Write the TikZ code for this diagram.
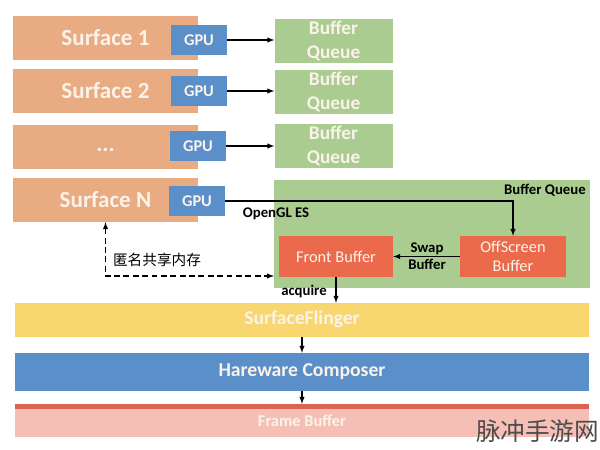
\documentclass[tikz,border=0pt]{standalone}
\usepackage{fontspec}
\setmainfont{Carlito}
\newfontfamily\cjk{Noto Sans CJK SC}
\newlength{\px}
\setlength{\px}{0.03cm}
\newcommand{\surfdots}{\rule{0pt}{8pt}...}
\definecolor{surfacecol}{HTML}{E9AB82}
\definecolor{gpucol}{HTML}{5B8FCA}
\definecolor{queuecol}{HTML}{AACC90}
\definecolor{buffercol}{HTML}{EC6A4C}
\definecolor{flingercol}{HTML}{F8D670}
\definecolor{framecol}{HTML}{F6BFB5}
\definecolor{stripcol}{HTML}{DA6450}
\definecolor{softwhite}{HTML}{FBF3EA}
\tikzset{
  layer/.style={inner sep=0pt,text=softwhite,font=\bfseries},
  lowtext/.style={text height=1em,text depth=0.2em},
  surfacebox/.style={layer,fill=surfacecol,minimum width=185\px,minimum height=44\px,font=\bfseries\fontsize{19.7}{22}\selectfont},
  gpubox/.style={layer,fill=gpucol,minimum width=56\px,minimum height=30\px,font=\fontsize{14}{16}\selectfont\bfseries},
  queuebox/.style={layer,fill=queuecol,minimum width=118\px,minimum height=44\px,align=center,font=\fontsize{16.5}{20.5}\selectfont\bfseries},
  bufferbox/.style={layer,fill=buffercol,minimum height=41\px,align=center,font=\fontsize{14}{16.5}\selectfont},
  tag/.style={inner sep=0pt,align=center,font=\fontsize{12.6}{14.5}\selectfont\bfseries},
  link/.style={black,line width=1pt,-latex},
}
\begin{document}
\begin{tikzpicture}[x=0.03cm,y=-0.03cm]
  \useasboundingbox (0,0) rectangle (600,449);
  \foreach [count=\Z] \X/\Y/\G/\H/\Q in {Surface 1/38/199/40/41,Surface 2/91/199/91/92,\surfdots/147/198/146/146}
  {\node[surfacebox] (surf\Z) at (105.5,\Y) {\X};
   \node[gpubox] (gpu\Z) at (\G,\H) {GPU};
   \node[queuebox] (queue\Z) at (333.5,\Q) {Buffer\\Queue};
   \draw[link] (gpu\Z) -- (gpu\Z-|queue\Z.west);}
  \node[surfacebox] (surfN) at (105.5,200) {Surface N};
  \node[gpubox] (gpuN) at (197,201) {GPU};
  \node[queuebox,minimum width=316\px,minimum height=108\px] (queueN) at (432,234) {};
  \node[tag,anchor=north east] (queuelabel) at (586,184) {Buffer Queue};
  \node[tag] (opengl) at (276,214) {OpenGL ES};
  \node[bufferbox,minimum width=114\px] (front) at (336,256.5) {Front Buffer};
  \node[bufferbox,minimum width=106\px] (offscreen) at (513,256.5) {OffScreen\\Buffer};
  \node[tag] (swap) at (427,256) {Swap\\Buffer};
  \node[tag] (acquire) at (304,291) {acquire};
  \node[layer,lowtext,fill=flingercol,minimum width=574\px,minimum height=34\px,font=\fontsize{16.7}{19}\selectfont\bfseries] (flinger) at (302,320) {SurfaceFlinger};
  \node[layer,lowtext,fill=gpucol,minimum width=574\px,minimum height=38\px,font=\fontsize{16.8}{19}\selectfont\bfseries] (composer) at (302,372) {Hareware Composer};
  \node[layer,fill=framecol,minimum width=574\px,minimum height=33\px,font=\fontsize{14}{16}\selectfont\bfseries] (frame) at (302,420.5) {Frame Buffer};
  \fill[stripcol] (frame.north west) rectangle ([yshift=-5\px]frame.north east);
  \node[inner sep=0pt,font=\cjk\fontsize{12.5}{15}\selectfont] (shm) at (157,260) {匿名共享内存};
  \node[inner sep=0pt,text=black!70,font=\cjk\fontsize{21}{25}\selectfont] (mark) at (537.5,431) {脉冲手游网};
  \coordinate (dashend) at (274,276);
  \draw[link] (gpuN) -| (offscreen);
  \draw[link] (offscreen) -- (front);
  \draw[link,latex-latex,dash pattern=on 5pt off 3pt] (surfN) |- (dashend);
  \draw[link] (front.south) -- (front.south|-flinger.north);
  \draw[link] (flinger) -- (composer);
  \draw[link] (composer) -- (frame.north);
\end{tikzpicture}
\end{document}
